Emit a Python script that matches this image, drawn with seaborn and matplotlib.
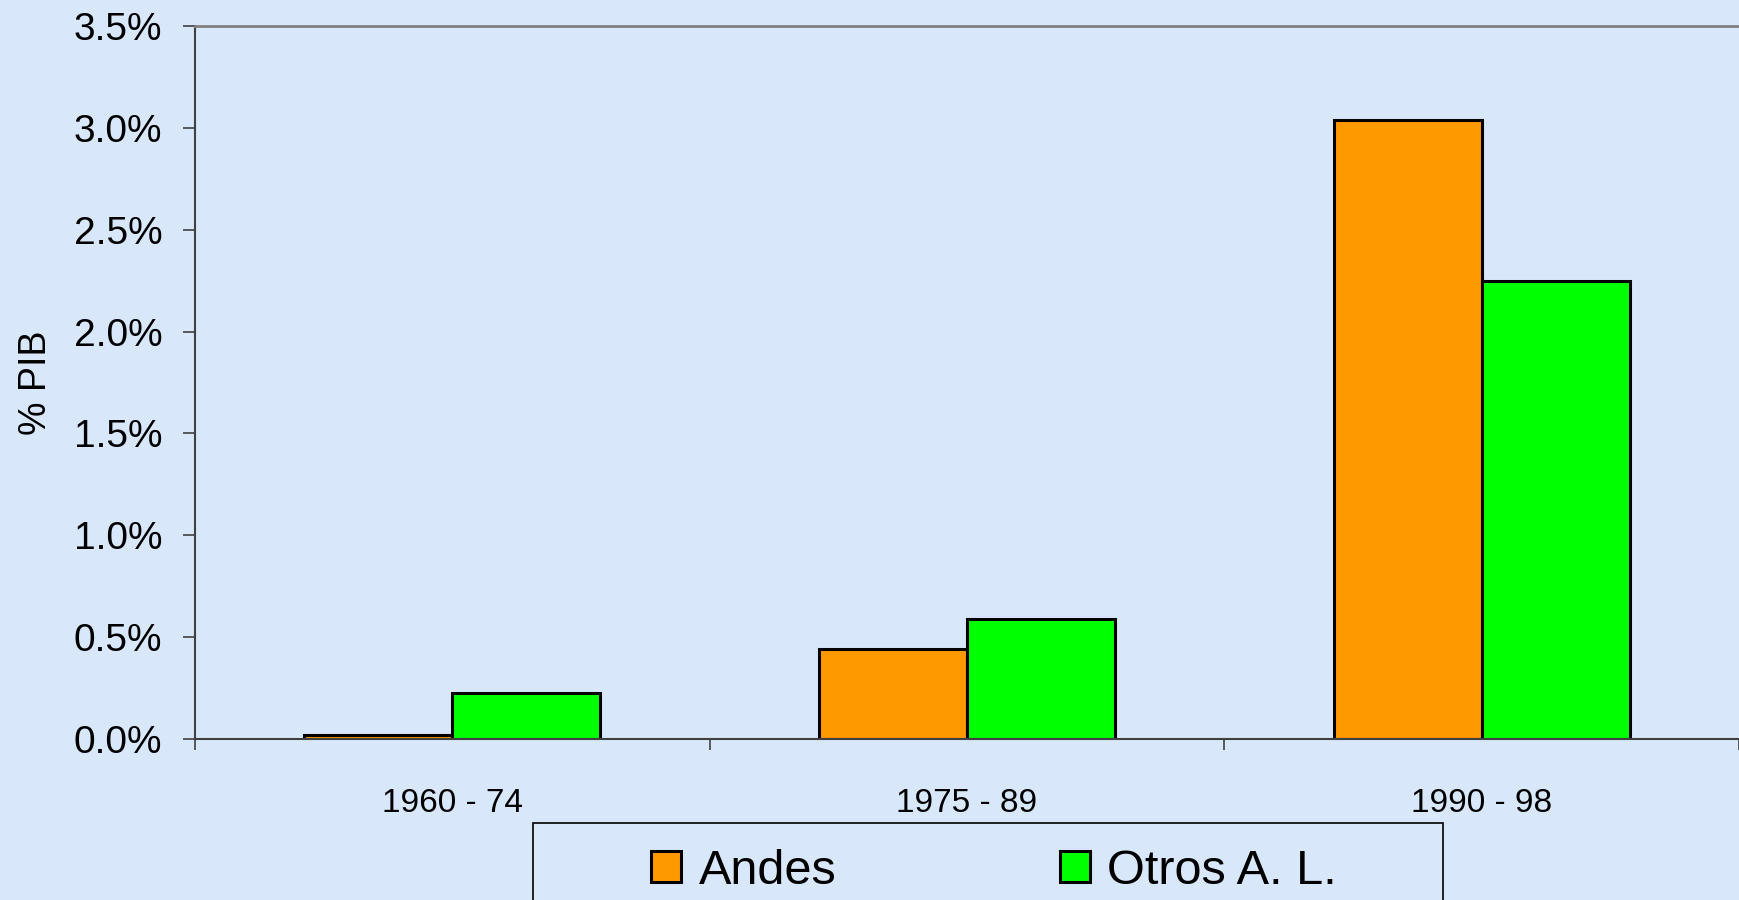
"""Gasto en % del PIB por periodo — Andes vs. otros países de A. L."""
import matplotlib
matplotlib.use("Agg")
import matplotlib.pyplot as plt
import pandas as pd
import seaborn as sns
from matplotlib.patches import Patch, Rectangle
from matplotlib.ticker import FixedLocator, FuncFormatter

periodos = ["1960 - 74", "1975 - 89", "1990 - 98"]
series = ["Andes", "Otros A. L."]
andes = [0.02, 0.44, 3.04]
otros = [0.225, 0.59, 2.25]
colores = ["#FF9900", "#00FF00"]
yticks = [0.0, 0.5, 1.0, 1.5, 2.0, 2.5, 3.0, 3.5]

BG = "#d8e8fa"

df = pd.DataFrame({
    "periodo": periodos * 2,
    "serie": [series[0]] * 3 + [series[1]] * 3,
    "valor": andes + otros,
})

sns.set_theme(style="white")
plt.rcParams["font.family"] = ["Liberation Sans", "DejaVu Sans"]
plt.rcParams["text.color"] = "black"
plt.rcParams["axes.labelcolor"] = "black"

fig = plt.figure(figsize=(17.39, 9.0), dpi=100, facecolor=BG)
ax = fig.add_axes([195 / 1739, 1 - 739 / 900, 1 - 195 / 1739, (739 - 26) / 900])
ax.set_facecolor(BG)

sns.barplot(data=df, x="periodo", y="valor", hue="serie", palette=colores,
            saturation=1, width=0.575, edgecolor="black", linewidth=2.2,
            ax=ax, legend=False)

ax.set_xlim(-0.5, 2.5)
ax.set_ylim(0, 3.5)
ax.set_yticks(yticks)
ax.yaxis.set_major_formatter(FuncFormatter(lambda v, _: f"{v:.1f}%"))
ax.tick_params(axis="y", which="major", direction="out", length=8.5, width=1.2,
               color="#404040", labelsize=28, pad=15, left=True, labelcolor="black")
ax.set_ylabel("% PIB", fontsize=27, color="black", labelpad=14)
ax.set_xlabel("")

# etiquetas en el centro, marcas en los límites de cada categoría
ax.tick_params(axis="x", which="major", length=0, labelsize=24, pad=35,
               labelcolor="black")
ax.xaxis.set_minor_locator(FixedLocator([-0.5, 0.5, 1.5, 2.5]))
ax.tick_params(axis="x", which="minor", direction="out", length=8, width=1.2,
               color="#404040", bottom=True)

for lado in ("left", "bottom"):
    ax.spines[lado].set_color("#404040")
    ax.spines[lado].set_linewidth(1.5)
ax.spines["top"].set_color("#808080")
ax.spines["top"].set_linewidth(2)
ax.spines["right"].set_visible(False)

handles = [Patch(facecolor=c, edgecolor="black", linewidth=2.2) for c in colores]
fig.legend(handles, series, loc="center", bbox_to_anchor=(994 / 1739, 1 - 871 / 900),
           ncol=2, frameon=False, fontsize=35, handlelength=0.62, handleheight=0.62,
           handletextpad=0.36, columnspacing=4.6, borderpad=0, labelcolor="black")
fig.patches.append(Rectangle((533 / 1739, -0.02), (1443 - 533) / 1739, (900 - 823) / 900 + 0.02,
                             transform=fig.transFigure, fill=False,
                             edgecolor="black", linewidth=1.2))

fig.savefig("out.png", dpi=100, facecolor=BG)
